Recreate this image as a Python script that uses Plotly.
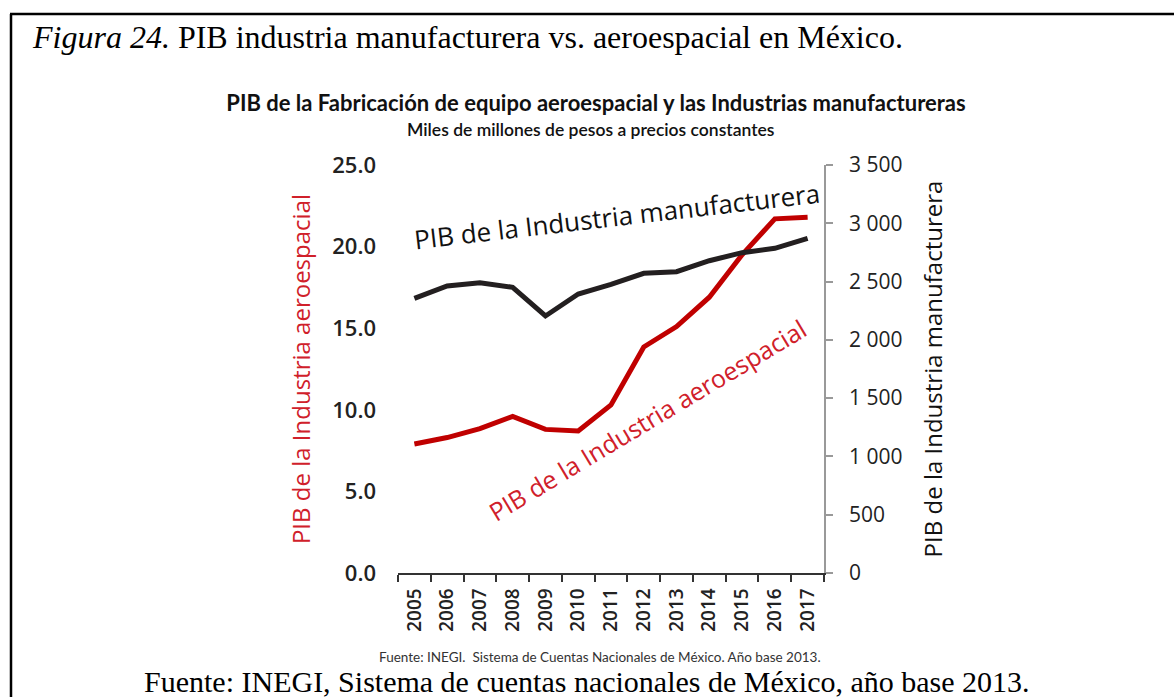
import plotly.graph_objects as go

years = ["2005", "2006", "2007", "2008", "2009", "2010", "2011", "2012",
         "2013", "2014", "2015", "2016", "2017"]
aeroespacial = [7.9, 8.3, 8.85, 9.6, 8.8, 8.7, 10.3, 13.85, 15.1, 16.9, 19.5, 21.7, 21.8]
manufacturera = [2356, 2462, 2490, 2451, 2205, 2393, 2475, 2571, 2585, 2679, 2748, 2785, 2871]

left_ticks = [0, 5, 10, 15, 20, 25]
right_ticks = [0, 500, 1000, 1500, 2000, 2500, 3000, 3500]

RED = "#c00000"
RED_TXT = "#d0202a"
DARK = "#231f20"

# plot area in pixels
X0, X1, YT, YB = 398, 824, 165, 573
W, H = 1174, 697


def px(x):
    return (x - X0) / (X1 - X0)


def py(y):
    return (YB - y) / (YB - YT)


NARROW = "Lato, Roboto, sans-serif"
SANS = "Open Sans, Noto Sans, sans-serif"
SERIF = "Liberation Serif, Times New Roman, serif"

fig = go.Figure()
fig.add_trace(go.Scatter(x=years, y=aeroespacial, mode="lines", name="Aeroespacial",
                         line=dict(color=RED, width=5), yaxis="y"))
fig.add_trace(go.Scatter(x=years, y=manufacturera, mode="lines", name="Manufacturera",
                         line=dict(color=DARK, width=5), yaxis="y2"))

fig.update_layout(
    width=W, height=H,
    margin=dict(l=X0, r=W - X1, t=YT, b=H - YB),
    paper_bgcolor="white", plot_bgcolor="white",
    showlegend=False,
    separators=". ",
    title=dict(text="<b>PIB de la Fabricación de equipo aeroespacial y las Industrias manufactureras</b>",
               x=596 / W, xref="container", xanchor="center",
               y=1 - 103 / H, yref="container", yanchor="middle",
               font=dict(family=NARROW, size=22, color="#111")),
    xaxis=dict(type="category", range=[-0.5, 12.5], tickson="boundaries",
               ticks="outside", ticklen=7, tickwidth=1.5, tickcolor="#333",
               showline=True, linecolor="#333", linewidth=1.5, tickangle=-90,
               showgrid=False, zeroline=False, ticklabelstandoff=6,
               tickfont=dict(family=SANS, size=19, color="#222", weight=600)),
    yaxis=dict(range=[0, 25], tickvals=left_ticks, tickformat=".1f",
               showline=False, ticks="", showgrid=False, zeroline=False,
               ticklabelstandoff=21,
               tickfont=dict(family=SANS, size=22, color="#222", weight=600),
               title=dict(text="PIB de la Industria aeroespacial",
                          font=dict(family=SANS, size=24, color=RED_TXT), standoff=14)),
    yaxis2=dict(range=[0, 3500], tickvals=right_ticks, tickformat=",d",
                overlaying="y", side="right",
                showline=True, linecolor="#999", linewidth=1.5,
                ticks="outside", ticklen=7, tickcolor="#999", tickwidth=1.5,
                showgrid=False, zeroline=False, ticklabelstandoff=12,
                tickfont=dict(family=SANS, size=21, color="#222"),
                title=dict(text="PIB de la Industria manufacturera",
                           font=dict(family=SANS, size=24, color="#111"), standoff=24)),
)

annotations = [
    dict(text="Miles de millones de pesos a precios constantes", x=px(591), y=py(129),
         font=dict(family=NARROW, size=17.5, color="#111", weight=600)),
    dict(text="PIB de la Industria manufacturera", x=px(617), y=py(216), textangle=-6.6,
         font=dict(family=SANS, size=26, color="#111")),
    dict(text="PIB de la Industria aeroespacial", x=px(647), y=py(420), textangle=-31,
         font=dict(family=SANS, size=25, color=RED_TXT)),
    dict(text="Fuente: INEGI.\u00a0 Sistema de Cuentas Nacionales de México. Año base 2013.",
         x=px(600), y=py(657), font=dict(family=NARROW, size=13.5, color="#333")),
    dict(text="<i>Figura 24.</i> PIB industria manufacturera vs. aeroespacial en México.",
         x=px(30), y=py(37), xanchor="left",
         font=dict(family=SERIF, size=32, color="#000")),
    dict(text="Fuente: INEGI, Sistema de cuentas nacionales de México, año base 2013.",
         x=px(587), y=py(681), font=dict(family=SERIF, size=30, color="#000")),
]
for a in annotations:
    a.setdefault("xanchor", "center")
    a.update(xref="paper", yref="paper", yanchor="middle", showarrow=False)
fig.update_layout(annotations=annotations)

fig.add_shape(type="line", xref="paper", yref="paper", x0=px(10), x1=px(1174), y0=py(14), y1=py(14),
              line=dict(color="#000", width=2.5))
fig.add_shape(type="line", xref="paper", yref="paper", x0=px(11), x1=px(11), y0=py(14), y1=py(697),
              line=dict(color="#000", width=2.5))

fig.write_html("out.html")
